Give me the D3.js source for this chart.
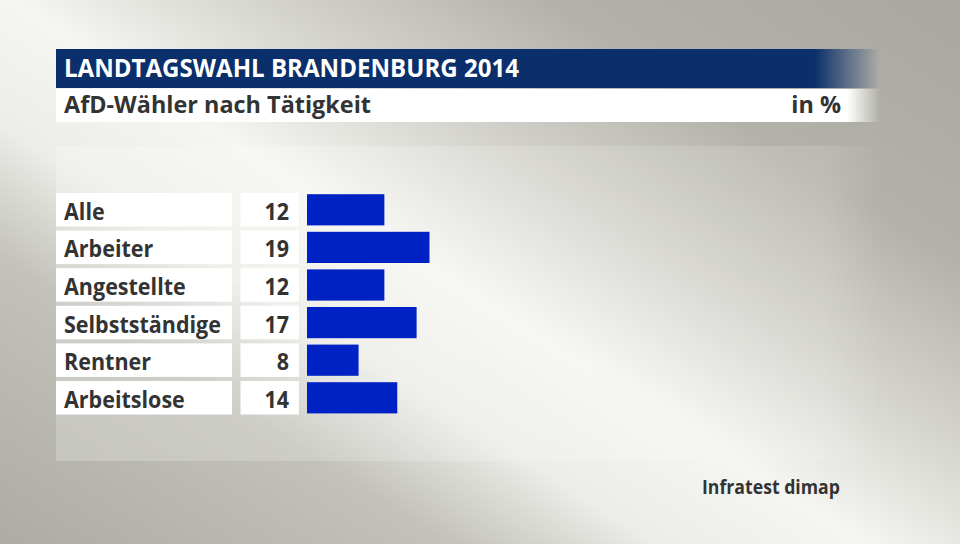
<!DOCTYPE html>
<html><head><meta charset="utf-8">
<script src="https://cdn.jsdelivr.net/npm/d3@7"></script>
<style>body{margin:0;padding:0;overflow:hidden;}svg{display:block;}</style>
</head><body>
<script>
const categories = ["Alle","Arbeiter","Angestellte","Selbstständige","Rentner","Arbeitslose"];
const values = [12,19,12,17,8,14];
const title = "LANDTAGSWAHL BRANDENBURG 2014";
const subtitle = "AfD-Wähler nach Tätigkeit";
const unit = "in %";
const source = "Infratest dimap";

const W=960,H=544;
const svg=d3.select("body").append("svg").attr("width",W).attr("height",H);
const defs=svg.append("defs");
const bg=defs.append("linearGradient").attr("id","bg").attr("gradientUnits","userSpaceOnUse")
  .attr("x1",715).attr("y1",-160).attr("x2",165).attr("y2",704);
[[0,"#a9a8a0"],[0.22,"#b3b2aa"],[0.36,"#d2d1cb"],[0.5,"#f5f5f1"],[0.61,"#ececE8"],[0.72,"#c2c1ba"],[1,"#a9a8a0"]]
  .forEach(s=>bg.append("stop").attr("offset",s[0]).attr("stop-color",s[1]));
svg.append("rect").attr("width",W).attr("height",H).attr("fill","url(#bg)");

function fade(id,color,start){
  const g=defs.append("linearGradient").attr("id",id).attr("x1","0").attr("x2","1");
  g.append("stop").attr("offset","0").attr("stop-color",color).attr("stop-opacity",1);
  g.append("stop").attr("offset",start).attr("stop-color",color).attr("stop-opacity",1);
  g.append("stop").attr("offset","1").attr("stop-color",color).attr("stop-opacity",0);
}
fade("fadeB","#0a2f6b",0.92);
fade("fadeW","#ffffff",0.96);
const pf=defs.append("linearGradient").attr("id","fadeP").attr("x1","0").attr("x2","1");
pf.append("stop").attr("offset","0").attr("stop-color","#fff").attr("stop-opacity",0.22);
pf.append("stop").attr("offset","0.93").attr("stop-color","#fff").attr("stop-opacity",0.12);
pf.append("stop").attr("offset","1").attr("stop-color","#fff").attr("stop-opacity",0);

svg.append("rect").attr("x",56).attr("y",146).attr("width",826).attr("height",315).attr("fill","url(#fadeP)");

svg.append("rect").attr("x",56).attr("y",49).attr("width",824).attr("height",39).attr("fill","url(#fadeB)");
svg.append("rect").attr("x",56).attr("y",89).attr("width",824).attr("height",33).attr("fill","url(#fadeW)");

const font="'Open Sans', 'DejaVu Sans', sans-serif";
svg.append("text").attr("x",64).attr("y",77).text(title)
  .attr("fill","#fff").attr("font-family",font).attr("font-weight",700).attr("font-size",24.5)
  .attr("textLength",455).attr("lengthAdjust","spacingAndGlyphs");
const sub=svg.append("text").attr("x",64).attr("y",113).text(subtitle)
  .attr("fill","#333").attr("font-family",font).attr("font-weight",700).attr("font-size",22.5);
const subW=sub.node().getComputedTextLength();
const sxSub=307/subW;
sub.attr("textLength",307).attr("lengthAdjust","spacingAndGlyphs");
svg.append("text").attr("transform",`translate(841,113) scale(${sxSub},1)`).attr("text-anchor","end").text(unit)
  .attr("fill","#333").attr("font-family",font).attr("font-weight",700).attr("font-size",22.5);

const y=d3.scaleBand().domain(categories).range([193,414.5]).paddingInner(0.109).paddingOuter(0);
const x=d3.scaleLinear().domain([0,19]).range([307,429.5]);

const rows=svg.append("g").selectAll("g").data(categories).join("g");
rows.append("rect").attr("x",56).attr("y",d=>y(d)).attr("width",176).attr("height",y.bandwidth()).attr("fill","#fff");
rows.append("rect").attr("x",240.5).attr("y",d=>y(d)).attr("width",58.5).attr("height",y.bandwidth()).attr("fill","#fff");
rows.append("rect").attr("x",x(0)).attr("y",d=>y(d)+1.2).attr("width",(d,i)=>x(values[i])-x(0)).attr("height",y.bandwidth()-2.3)
  .attr("fill","#0022c4");
const labels=rows.append("text").text(d=>d)
  .attr("fill","#333").attr("font-family",font).attr("font-weight",700).attr("font-size",23);
const maxW=d3.max(labels.nodes(),n=>n.getComputedTextLength());
const sx=157/maxW;
labels.attr("transform",d=>`translate(64,${y(d)+y.bandwidth()/2+10}) scale(${sx},1)`);
rows.append("text").attr("transform",d=>`translate(289,${y(d)+y.bandwidth()/2+10}) scale(${sx},1)`)
  .attr("text-anchor","end").text((d,i)=>values[i])
  .attr("fill","#333").attr("font-family",font).attr("font-weight",700).attr("font-size",23);

svg.append("text").attr("x",702).attr("y",493.5).text(source)
  .attr("fill","#333").attr("font-family",font).attr("font-weight",700).attr("font-size",19.5)
  .attr("textLength",138).attr("lengthAdjust","spacingAndGlyphs");
</script>
</body></html>
